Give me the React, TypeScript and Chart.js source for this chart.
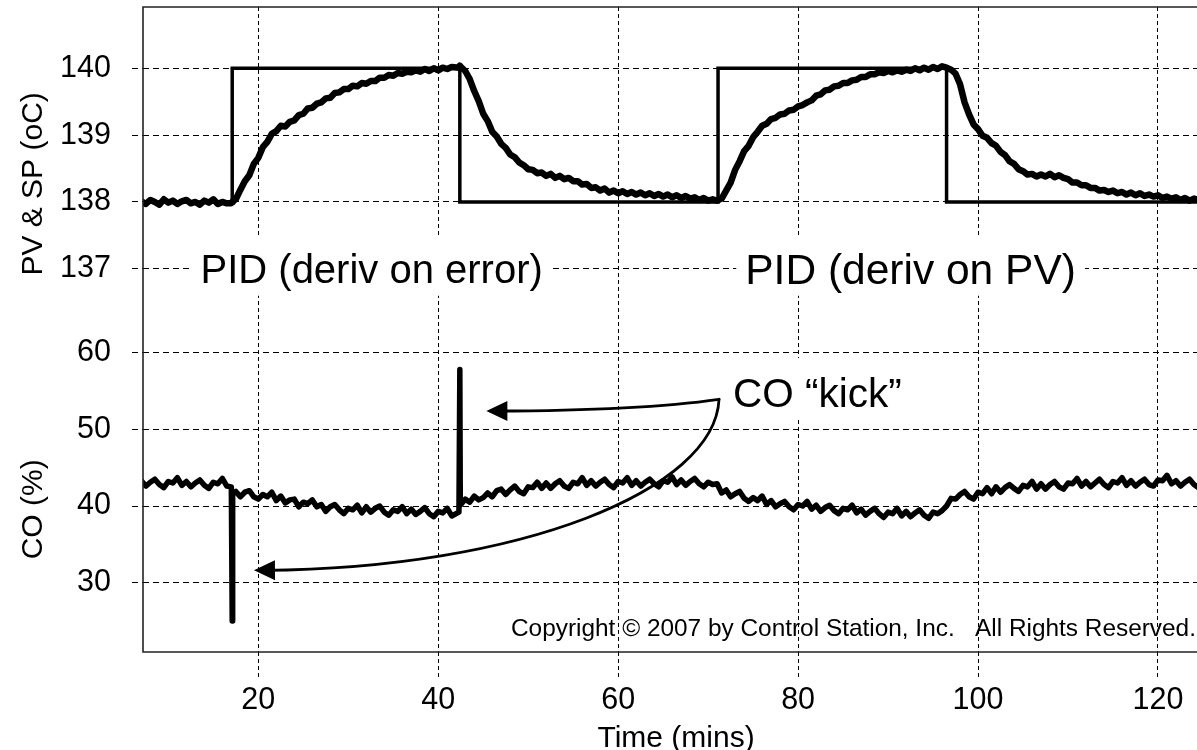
import React, { useEffect, useRef } from 'react';
import { Chart, registerables } from 'chart.js';

Chart.register(...registerables);

// ---------- data ----------
// sample times, minutes
const TIME = [
  7, 7.5, 8, 8.5, 9, 9.5, 10, 10.5, 11, 11.5,
  12, 12.5, 13, 13.5, 14, 14.5, 15, 15.5, 16, 16.5,
  17, 17.1, 17.15, 17.5, 18, 18.5, 19, 19.5, 20, 20.5, 21, 21.5,
  22, 22.5, 23, 23.5, 24, 24.5, 25, 25.5, 26, 26.5,
  27, 27.5, 28, 28.5, 29, 29.5, 30, 30.5, 31, 31.5,
  32, 32.5, 33, 33.5, 34, 34.5, 35, 35.5, 36, 36.5,
  37, 37.5, 38, 38.5, 39, 39.5, 40, 40.5, 41, 41.5,
  42.3, 42.4, 42.45, 43, 43.5, 44, 44.5, 45, 45.5, 46, 46.5,
  47, 47.5, 48, 48.5, 49, 49.5, 50, 50.5, 51, 51.5,
  52, 52.5, 53, 53.5, 54, 54.5, 55, 55.5, 56, 56.5,
  57, 57.5, 58, 58.5, 59, 59.5, 60, 60.5, 61, 61.5,
  62, 62.5, 63, 63.5, 64, 64.5, 65, 65.5, 66, 66.5,
  67, 67.5, 68, 68.5, 69, 69.5, 70, 70.5, 71, 71.5,
  72, 72.5, 73, 73.5, 74, 74.5, 75, 75.5, 76, 76.5,
  77, 77.5, 78, 78.5, 79, 79.5, 80, 80.5, 81, 81.5,
  82, 82.5, 83, 83.5, 84, 84.5, 85, 85.5, 86, 86.5,
  87, 87.5, 88, 88.5, 89, 89.5, 90, 90.5, 91, 91.5,
  92, 92.5, 93, 93.5, 94, 94.5, 95, 95.5, 96, 96.5,
  97, 97.5, 98, 98.5, 99, 99.5, 100, 100.5, 101, 101.5,
  102, 102.5, 103, 103.5, 104, 104.5, 105, 105.5, 106, 106.5,
  107, 107.5, 108, 108.5, 109, 109.5, 110, 110.5, 111, 111.5,
  112, 112.5, 113, 113.5, 114, 114.5, 115, 115.5, 116, 116.5,
  117, 117.5, 118, 118.5, 119, 119.5, 120, 120.5, 121, 121.5,
  122, 122.5, 123, 123.5, 124, 124.5, 125, 125.5,
];

// process variable, deg C
const PV = [
  138.01, 137.97, 138.03, 138.00, 137.96, 138.04, 137.99, 138.02, 137.97, 138.01,
  138.03, 137.98, 138.00, 137.96, 138.02, 137.99, 138.04, 137.97, 138.00, 137.98,
  137.98, 138.00, 138.01, 138.04, 138.18, 138.31, 138.40, 138.57, 138.66, 138.82, 138.90, 139.02,
  139.06, 139.14, 139.13, 139.20, 139.22, 139.30, 139.32, 139.40, 139.41, 139.47,
  139.49, 139.55, 139.56, 139.63, 139.64, 139.69, 139.69, 139.74, 139.73, 139.78,
  139.77, 139.81, 139.81, 139.86, 139.86, 139.90, 139.89, 139.93, 139.92, 139.95,
  139.94, 139.97, 139.95, 139.99, 139.96, 140.00, 139.97, 140.01, 139.99, 140.02,
  140.01, 140.04, 140.03, 139.96, 139.84, 139.66, 139.51, 139.32, 139.21, 139.05, 138.98,
  138.87, 138.81, 138.71, 138.67, 138.59, 138.55, 138.49, 138.48, 138.43, 138.44,
  138.39, 138.42, 138.36, 138.39, 138.34, 138.36, 138.31, 138.31, 138.26, 138.27,
  138.21, 138.22, 138.17, 138.20, 138.14, 138.17, 138.13, 138.16, 138.12, 138.15,
  138.11, 138.14, 138.10, 138.13, 138.09, 138.12, 138.08, 138.11, 138.07, 138.10,
  138.06, 138.09, 138.05, 138.07, 138.03, 138.06, 138.02, 138.04, 138.02, 138.05,
  138.17, 138.29, 138.48, 138.61, 138.76, 138.84, 138.97, 139.05, 139.14, 139.17,
  139.24, 139.26, 139.31, 139.32, 139.37, 139.38, 139.43, 139.45, 139.49, 139.52,
  139.59, 139.61, 139.67, 139.68, 139.73, 139.74, 139.78, 139.78, 139.82, 139.83,
  139.87, 139.87, 139.91, 139.91, 139.94, 139.93, 139.96, 139.94, 139.97, 139.95,
  139.98, 139.96, 140.00, 139.97, 140.01, 139.98, 140.02, 139.99, 140.03, 140.01,
  139.98, 139.92, 139.76, 139.49, 139.31, 139.16, 139.09, 138.99, 138.96, 138.88,
  138.84, 138.75, 138.70, 138.61, 138.57, 138.49, 138.46, 138.41, 138.42, 138.38,
  138.41, 138.38, 138.42, 138.37, 138.40, 138.36, 138.34, 138.29, 138.29, 138.25,
  138.25, 138.21, 138.21, 138.17, 138.18, 138.15, 138.17, 138.13, 138.15, 138.11,
  138.14, 138.10, 138.13, 138.09, 138.11, 138.08, 138.10, 138.06, 138.08, 138.05,
  138.07, 138.03, 138.06, 138.02, 138.05, 138.03, 138.04, 138.02,
];

// controller output, %
const CO = [
  43.3, 42.6, 43.1, 43.5, 42.8, 42.4, 43.2, 43.0, 43.7, 42.7,
  43.2, 42.5, 43.0, 43.4, 42.7, 42.3, 43.1, 42.9, 43.6, 42.6,
  42.5, 25.0, 41.6, 41.9, 41.2, 41.8, 42.0, 41.2, 40.9, 41.5, 41.2, 41.8,
  40.7, 41.3, 40.4, 40.8, 40.9, 39.9, 40.5, 40.3, 40.8, 39.9,
  40.2, 39.3, 39.9, 40.2, 39.5, 39.0, 39.7, 39.5, 40.1, 39.1,
  39.9, 39.2, 39.7, 40.0, 39.2, 38.8, 39.5, 39.3, 39.9, 39.0,
  39.6, 38.9, 39.3, 39.8, 39.0, 38.6, 39.3, 39.1, 39.7, 38.7,
  39.2, 57.8, 40.1, 40.9, 40.5, 41.3, 40.8, 41.1, 41.7, 41.2, 42.0,
  42.2, 41.5, 42.1, 42.6, 41.9, 41.6, 42.5, 42.4, 43.1, 42.3,
  43.0, 42.3, 42.9, 43.3, 42.6, 42.3, 43.1, 42.9, 43.7, 42.7,
  43.3, 42.6, 43.1, 43.5, 42.8, 42.4, 43.2, 43.0, 43.7, 42.7,
  43.3, 42.6, 43.1, 43.5, 42.9, 42.5, 43.3, 43.1, 43.8, 42.8,
  43.4, 42.7, 43.2, 43.6, 42.9, 42.5, 43.1, 42.8, 42.9, 41.7,
  42.1, 41.2, 41.6, 41.9, 41.0, 40.6, 41.1, 40.7, 41.3, 40.2,
  40.7, 39.9, 40.3, 40.6, 39.9, 39.5, 40.2, 40.0, 40.6, 39.6,
  40.1, 39.3, 39.8, 40.1, 39.4, 39.0, 39.7, 39.5, 40.1, 39.1,
  39.6, 38.8, 39.3, 39.7, 39.0, 38.5, 39.2, 39.0, 39.7, 38.7,
  39.3, 38.6, 39.1, 39.5, 38.8, 38.4, 39.2, 39.0, 39.4, 40.0,
  41.0, 40.9, 41.5, 41.9, 41.2, 40.9, 41.8, 41.6, 42.4, 41.6,
  42.5, 41.8, 42.4, 42.8, 42.3, 41.9, 42.7, 42.5, 43.2, 42.2,
  42.9, 42.2, 42.8, 43.2, 42.5, 42.2, 43.0, 42.9, 43.6, 42.6,
  43.2, 42.5, 43.0, 43.5, 42.8, 42.4, 43.2, 43.0, 43.7, 42.7,
  43.3, 42.6, 43.1, 43.5, 42.8, 42.6, 43.4, 43.3, 44.0, 42.9,
  43.3, 42.6, 43.1, 43.5, 42.8, 42.4, 43.2, 43.0,
];

// set point (step changes)
const SP_TIME = [7, 17.1, 17.1, 42.4, 42.4, 71.1, 71.1, 96.5, 96.5, 125.8];
const SP = [138, 138, 140, 140, 138, 138, 140, 140, 138, 138];

// tick values
const X_TICKS = [20, 40, 60, 80, 100, 120];
const PV_TICKS = [137, 138, 139, 140];
const CO_TICKS = [30, 40, 50, 60];

// ---------- annotation texts ----------
const PID_LABELS = [
  { text: 'PID (deriv on error)', t: 32.6, v: 137, size: 40 },
  { text: 'PID (deriv on PV)', t: 92.5, v: 137, size: 42.5 },
];
const KICK_LABEL = { text: 'CO \u201Ckick\u201D', t: 72.75, v: 52.91 };
const KICK_START = { t: 71.21, v: 53.92 };
const KICK_ARROW1 = { c: { t: 62.43, v: 52.46 }, tip: { t: 45.35, v: 52.39 } };
const KICK_ARROW2 = {
  c1: { t: 70.76, v: 42.05 },
  c2: { t: 49.09, v: 31.87 },
  tip: { t: 19.52, v: 31.61 },
};
const COPYRIGHT = { text: 'Copyright \u00A9 2007 by Control Station, Inc.   All Rights Reserved.', t: 124.22, v: 23.0 };

const FONT = '"Liberation Sans", Arial, Helvetica, sans-serif';

function arrowHead(ctx: CanvasRenderingContext2D, tx: number, ty: number, fx: number, fy: number, len: number, half: number) {
  const a = Math.atan2(ty - fy, tx - fx);
  const bx = tx - len * Math.cos(a);
  const by = ty - len * Math.sin(a);
  ctx.beginPath();
  ctx.moveTo(tx, ty);
  ctx.lineTo(bx + half * Math.sin(a), by - half * Math.cos(a));
  ctx.lineTo(bx - half * Math.sin(a), by + half * Math.cos(a));
  ctx.closePath();
  ctx.fill();
}

const annotPlugin = {
  id: 'annot',
  afterDatasetsDraw(chart: any) {
    const { ctx, scales } = chart;
    const X = scales.x, YP = scales.yPV, YC = scales.yCO;
    const px = (t: number) => X.getPixelForValue(t);
    ctx.save();

    // PID labels with white boxes
    ctx.textAlign = 'center';
    ctx.textBaseline = 'alphabetic';
    for (const l of PID_LABELS) {
      ctx.font = `${l.size}px ${FONT}`;
      const cx = px(l.t);
      const cy = YP.getPixelForValue(l.v);
      const w = ctx.measureText(l.text).width;
      ctx.fillStyle = '#fff';
      ctx.fillRect(cx - w / 2 - 9, cy - 31, w + 18, 58);
      ctx.fillStyle = '#000';
      ctx.fillText(l.text, cx, cy + l.size * 0.35);
    }

    // CO kick label
    {
      ctx.font = `40.5px ${FONT}`;
      const lx = px(KICK_LABEL.t);
      const ly = YC.getPixelForValue(KICK_LABEL.v);
      ctx.textAlign = 'left';
      const w = ctx.measureText(KICK_LABEL.text).width;
      ctx.fillStyle = '#fff';
      ctx.fillRect(lx - 9, ly - 49, w + 18, 62);
      ctx.fillStyle = '#000';
      ctx.fillText(KICK_LABEL.text, lx, ly);
    }

    // arrows
    const sx = px(KICK_START.t), sy = YC.getPixelForValue(KICK_START.v);
    ctx.strokeStyle = '#000';
    ctx.fillStyle = '#000';
    ctx.lineWidth = 2.8;
    ctx.lineCap = 'round';
    {
      const cx = px(KICK_ARROW1.c.t), cy = YC.getPixelForValue(KICK_ARROW1.c.v);
      const tx = px(KICK_ARROW1.tip.t), ty = YC.getPixelForValue(KICK_ARROW1.tip.v);
      ctx.beginPath();
      ctx.moveTo(sx, sy);
      ctx.quadraticCurveTo(cx, cy, tx + 10, ty);
      ctx.stroke();
      arrowHead(ctx, tx, ty, cx, cy, 21, 10);
    }
    {
      const c1x = px(KICK_ARROW2.c1.t), c1y = YC.getPixelForValue(KICK_ARROW2.c1.v);
      const c2x = px(KICK_ARROW2.c2.t), c2y = YC.getPixelForValue(KICK_ARROW2.c2.v);
      const tx = px(KICK_ARROW2.tip.t), ty = YC.getPixelForValue(KICK_ARROW2.tip.v);
      ctx.beginPath();
      ctx.moveTo(sx, sy);
      ctx.bezierCurveTo(c1x, c1y, c2x, c2y, tx + 10, ty);
      ctx.stroke();
      arrowHead(ctx, tx, ty, c2x, c2y, 21, 10);
    }

    // copyright
    ctx.font = `24.4px ${FONT}`;
    ctx.textAlign = 'right';
    ctx.fillStyle = '#000';
    ctx.fillText(COPYRIGHT.text, px(COPYRIGHT.t), YC.getPixelForValue(COPYRIGHT.v));

    ctx.restore();
  },
  afterDraw(chart: any) {
    const { ctx, chartArea: ca, scales } = chart;
    ctx.save();
    // frame (top, left, bottom)
    ctx.strokeStyle = '#222';
    ctx.lineWidth = 1.6;
    ctx.beginPath();
    ctx.moveTo(ca.right + 2, ca.top);
    ctx.lineTo(ca.left, ca.top);
    ctx.lineTo(ca.left, ca.bottom);
    ctx.lineTo(ca.right + 2, ca.bottom);
    ctx.stroke();

    // axis titles
    ctx.fillStyle = '#000';
    ctx.font = `30px ${FONT}`;
    ctx.textAlign = 'center';
    ctx.textBaseline = 'alphabetic';
    ctx.fillText('Time (mins)', scales.x.getPixelForValue(66.43), 746.5);

    const drawV = (text: string, y: number) => {
      ctx.save();
      ctx.translate(ca.left - 101, y);
      ctx.rotate(-Math.PI / 2);
      ctx.fillText(text, 0, 0);
      ctx.restore();
    };
    drawV('PV & SP (oC)', scales.yPV.getPixelForValue(138.27));
    drawV('CO (%)', scales.yCO.getPixelForValue(39.57));
    ctx.restore();
  },
};

export default function App() {
  const ref = useRef<HTMLCanvasElement>(null);

  useEffect(() => {
    const canvas = ref.current;
    if (!canvas) return;
    const pv = TIME.map((t, i) => ({ x: t, y: PV[i] }));
    const co = TIME.map((t, i) => ({ x: t, y: CO[i] }));
    const sp = SP_TIME.map((t, i) => ({ x: t, y: SP[i] }));

    const tickFont = { family: FONT, size: 30.5 };
    const yAxisCommon = {
      type: 'linear' as const,
      position: 'left' as const,
      stack: 'v',
      border: { display: false, dash: [6, 4] },
      grid: {
        color: '#000',
        lineWidth: 1,
        drawTicks: true,
        tickLength: 11,
        tickColor: '#000',
        tickWidth: 1,
        tickBorderDash: [6, 4],
      },
      ticks: { font: tickFont, color: '#000', padding: 21 },
      afterFit: (s: any) => {
        s.width = 143;
        s.paddingTop = 0;
        s.paddingBottom = 0;
      },
    };

    const chart = new Chart(canvas, {
      type: 'line',
      data: {
        datasets: [
          {
            label: 'SP',
            data: sp,
            yAxisID: 'yPV',
            borderColor: '#000',
            borderWidth: 3.5,
            pointRadius: 0,
            borderJoinStyle: 'miter',
            tension: 0,
            clip: 0,
          },
          {
            label: 'PV',
            data: pv,
            yAxisID: 'yPV',
            borderColor: '#000',
            borderWidth: 6.5,
            pointRadius: 0,
            borderJoinStyle: 'round',
            borderCapStyle: 'round',
            tension: 0,
            clip: 0,
          },
          {
            label: 'CO',
            data: co,
            yAxisID: 'yCO',
            borderColor: '#000',
            borderWidth: 5.5,
            pointRadius: 0,
            borderJoinStyle: 'round',
            borderCapStyle: 'round',
            tension: 0,
            clip: 0,
          },
        ],
      },
      options: {
        responsive: false,
        animation: false,
        devicePixelRatio: 1,
        events: [],
        layout: { padding: { top: 7, left: 0, right: 0, bottom: 0 } },
        plugins: {
          legend: { display: false },
          tooltip: { enabled: false },
          title: { display: false },
        },
        scales: {
          x: {
            type: 'linear',
            position: 'bottom',
            min: 7.184,
            max: 125.78,
            border: { display: false, dash: [4, 3] },
            grid: {
              color: '#000',
              lineWidth: 1,
              drawTicks: true,
              tickLength: 26,
              tickColor: '#000',
              tickWidth: 1,
              tickBorderDash: [4, 3],
            },
            ticks: { font: tickFont, color: '#000', padding: 4.6, maxRotation: 0, autoSkip: false },
            afterBuildTicks: (s: any) => {
              s.ticks = X_TICKS.map((v) => ({ value: v }));
            },
            afterFit: (s: any) => {
              s.height = 98;
              s.paddingLeft = 0;
              s.paddingRight = 0;
            },
          },
          yPV: {
            ...yAxisCommon,
            weight: 2,
            stackWeight: 302.5,
            min: 136.39,
            max: 140.918,
            afterBuildTicks: (s: any) => {
              s.ticks = PV_TICKS.map((v) => ({ value: v }));
            },
          },
          yCO: {
            ...yAxisCommon,
            weight: 1,
            stackWeight: 342.5,
            min: 20.96,
            max: 65.63,
            afterBuildTicks: (s: any) => {
              s.ticks = CO_TICKS.map((v) => ({ value: v }));
            },
          },
        },
      } as any,
      plugins: [annotPlugin],
    });

    return () => chart.destroy();
  }, []);

  return (
    <div
      style={{
        position: 'fixed',
        left: 0,
        top: 0,
        width: 1197,
        height: 750,
        overflow: 'hidden',
        background: '#fff',
      }}
    >
      <canvas ref={ref} width={1210} height={750} style={{ display: 'block', width: 1210, height: 750 }} />
    </div>
  );
}
